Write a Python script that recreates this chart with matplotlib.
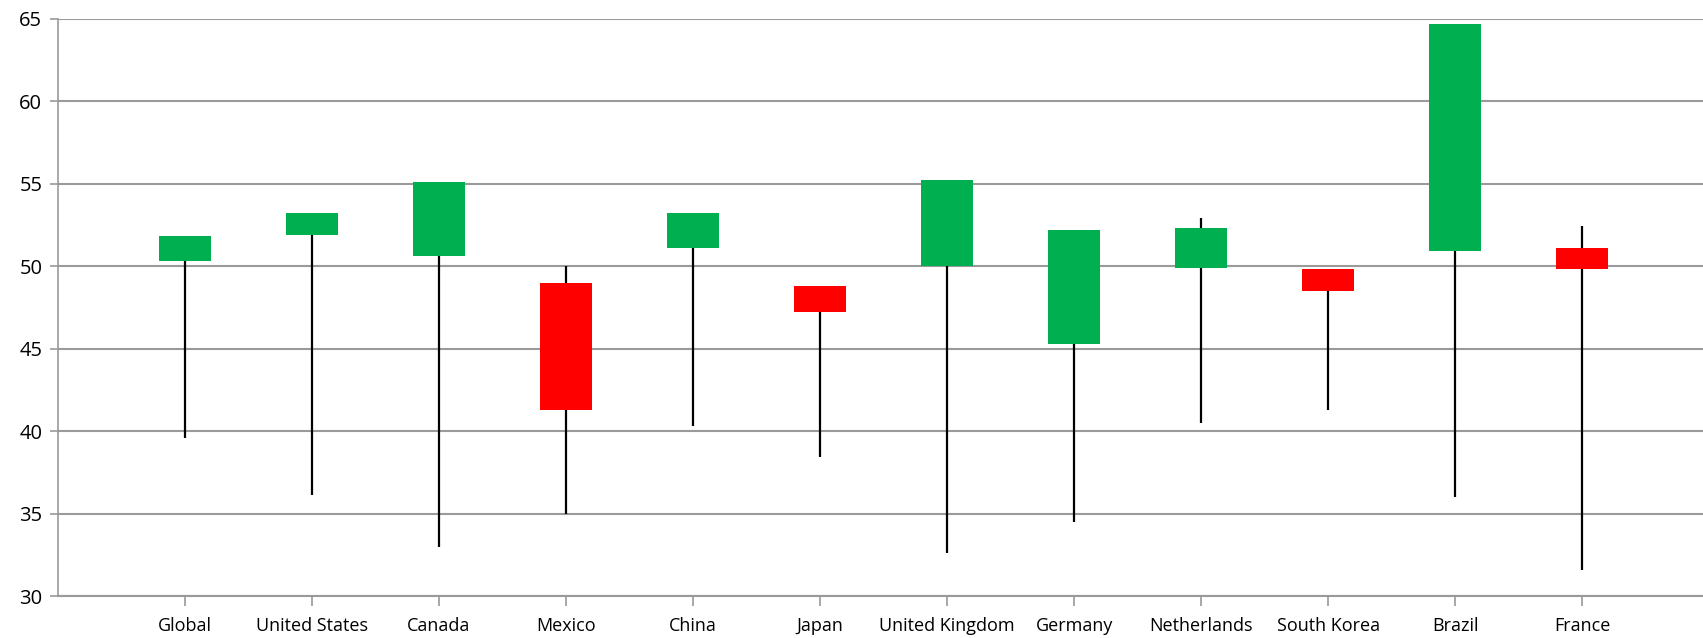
import matplotlib
matplotlib.use("Agg")
import matplotlib.pyplot as plt
import numpy as np

countries = ["Global", "United States", "Canada", "Mexico", "China", "Japan",
             "United Kingdom", "Germany", "Netherlands", "South Korea", "Brazil", "France"]
open_vals = [50.3, 51.9, 50.6, 49.0, 51.1, 48.8, 50.0, 45.3, 49.9, 49.8, 50.9, 51.1]
close_vals = [51.8, 53.2, 55.1, 41.3, 53.2, 47.2, 55.2, 52.2, 52.3, 48.5, 64.7, 49.8]
high_vals = [51.8, 53.2, 55.1, 50.0, 53.2, 48.8, 55.2, 52.2, 52.9, 49.8, 64.7, 52.4]
low_vals = [39.6, 36.1, 33.0, 35.0, 40.3, 38.4, 32.6, 34.5, 40.5, 41.3, 36.0, 31.6]
y_ticks = [30, 35, 40, 45, 50, 55, 60, 65]

UP = "#00B050"
DOWN = "#FF0000"
GRID = "#9A9A9A"

plt.rcParams["font.family"] = ["Open Sans", "DejaVu Sans"]

fig = plt.figure(figsize=(17.03, 6.38), dpi=100)
ax = fig.add_axes([0.0338, 0.0658, 0.970, 0.905])

x = np.arange(1, len(countries) + 1)
body_w = 0.41

for xi, o, c, h, l in zip(x, open_vals, close_vals, high_vals, low_vals):
    color = UP if c >= o else DOWN
    ax.vlines(xi, l, h, color="black", linewidth=1.6, zorder=2)
    bottom = min(o, c)
    ax.bar(xi, abs(c - o), width=body_w, bottom=bottom, color=color,
           edgecolor="none", zorder=3)

ax.set_xlim(0, 13)
ax.set_ylim(30, 65)
ax.set_yticks(y_ticks)
ax.set_xticks(x)
ax.set_xticklabels(countries)
ax.yaxis.grid(True, color=GRID, linewidth=1.5)
ax.set_axisbelow(True)

for side in ["top", "right"]:
    ax.spines[side].set_visible(False)
ax.spines["left"].set_color(GRID)
ax.spines["left"].set_linewidth(1.2)
ax.spines["bottom"].set_color(GRID)
ax.spines["bottom"].set_linewidth(1.5)

ax.tick_params(axis="x", colors=GRID, length=7, width=1.2, labelcolor="black",
               labelsize=13, pad=8)
ax.tick_params(axis="y", colors=GRID, length=6, width=1.2, labelcolor="black",
               labelsize=14.5, pad=5)

fig.savefig("out.png", dpi=100)
